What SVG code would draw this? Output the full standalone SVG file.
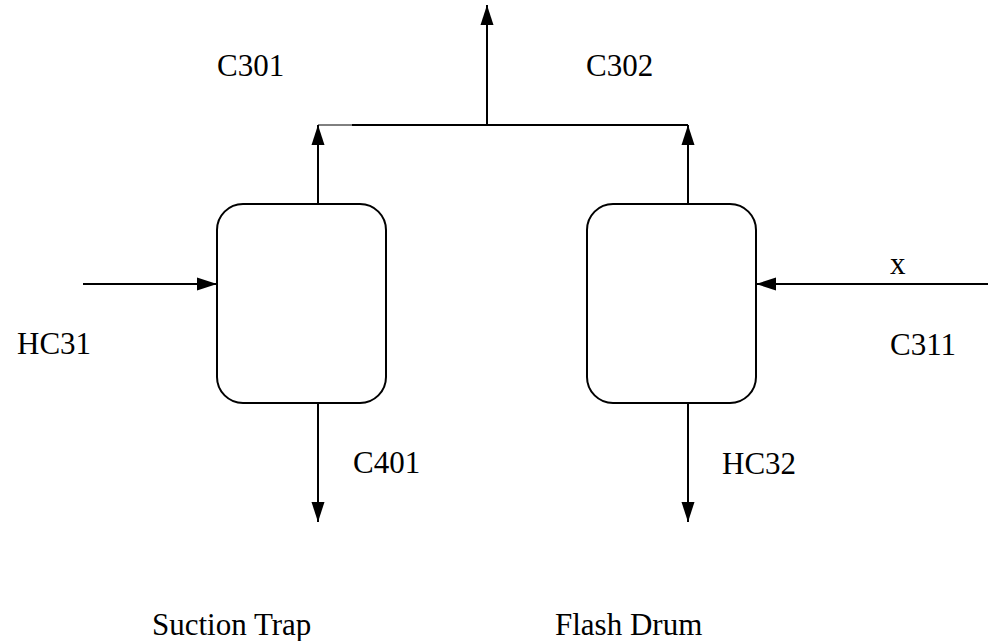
<svg xmlns="http://www.w3.org/2000/svg" width="988" height="641" viewBox="0 0 988 641">
<style>
  .box { fill: #ffffff; stroke: #000000; stroke-width: 2; }
  .line { fill: none; stroke: #000000; stroke-width: 2; }
  .thin { fill: none; stroke: #000000; stroke-width: 1; }
  .arr { fill: none; stroke: #000000; stroke-width: 2; marker-end: url(#ah); }
  text { font-family: "Liberation Serif", "Times New Roman", serif; font-size: 31px; fill: #000000; }
</style>
<defs>
  <marker id="ah" markerUnits="userSpaceOnUse" markerWidth="22" markerHeight="16" viewBox="0 0 22 16" refX="21" refY="8" orient="auto">
    <path d="M1,1.5 L21,8 L1,14.5 Z" fill="#000000"/>
  </marker>
</defs>
<rect width="988" height="641" fill="#ffffff"/>
<g id="connectors">
  <line class="thin" x1="318" y1="125" x2="353" y2="125"/>
  <line class="line" x1="352" y1="125" x2="688" y2="125"/>
  <line class="arr" x1="487" y1="125" x2="487" y2="5"/>
  <line class="arr" x1="318" y1="204" x2="318" y2="125"/>
  <line class="arr" x1="688" y1="204" x2="688" y2="125"/>
  <line class="arr" x1="83" y1="284" x2="217" y2="284"/>
  <line class="arr" x1="988" y1="284" x2="756" y2="284"/>
  <line class="arr" x1="318" y1="403" x2="318" y2="522"/>
  <line class="arr" x1="688" y1="403" x2="688" y2="522"/>
</g>
<g id="suction-trap">
  <rect class="box" x="217" y="204" width="169" height="199" rx="26" ry="26"/>
  <text x="152" y="635">Suction Trap</text>
</g>
<g id="flash-drum">
  <rect class="box" x="587" y="204" width="169" height="199" rx="26" ry="26"/>
  <text x="555" y="635">Flash Drum</text>
</g>
<g id="labels">
  <text x="217" y="76">C301</text>
  <text x="586" y="76">C302</text>
  <text x="17" y="354">HC31</text>
  <text x="890" y="355">C311</text>
  <text x="890" y="274">x</text>
  <text x="353" y="473">C401</text>
  <text x="722" y="474">HC32</text>
</g>
</svg>
